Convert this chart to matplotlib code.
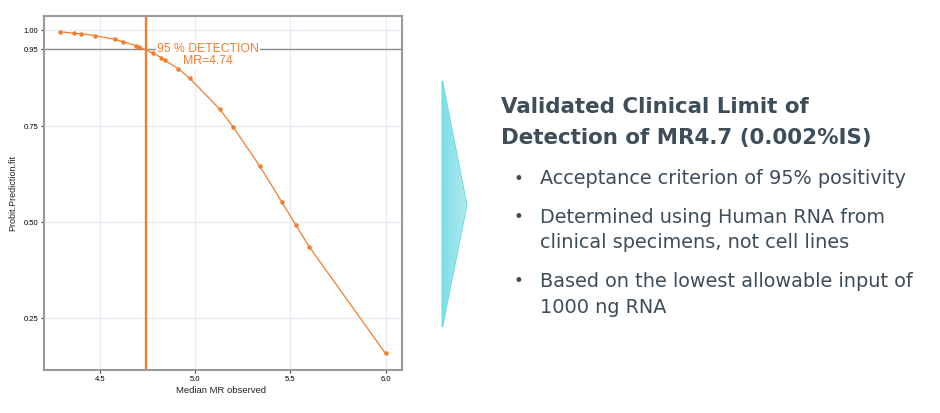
import matplotlib
matplotlib.use("Agg")
import matplotlib.pyplot as plt
import numpy as np
from matplotlib.patches import Polygon
from matplotlib.colors import LinearSegmentedColormap

# probit fit points
median_mr = [4.292, 4.364, 4.402, 4.472, 4.580, 4.622, 4.689, 4.703, 4.780, 4.820,
             4.839, 4.911, 4.971, 5.130, 5.198, 5.338, 5.456, 5.527, 5.598, 5.999]
probit_fit = [0.996, 0.992, 0.991, 0.986, 0.976, 0.970, 0.960, 0.957, 0.940, 0.929,
              0.922, 0.900, 0.875, 0.794, 0.749, 0.647, 0.552, 0.494, 0.437, 0.159]
detection_level = 0.95
detection_mr = 4.74
x_ticks = [4.5, 5.0, 5.5, 6.0]
x_tick_labels = ["4.5", "5.0", "5.5", "6.0"]
y_ticks = [0.25, 0.50, 0.75, 0.95, 1.00]
y_tick_labels = ["0.25", "0.50", "0.75", "0.95", "1.00"]

title_lines = ["Validated Clinical Limit of", "Detection of MR4.7 (0.002%IS)"]
bullets = [
    ["Acceptance criterion of 95% positivity"],
    ["Determined using Human RNA from", "clinical specimens, not cell lines"],
    ["Based on the lowest allowable input of", "1000 ng RNA"],
]

ORANGE = "#F47C2C"
SLATE = "#3E4D5A"

fig = plt.figure(figsize=(9.4, 4.13), dpi=100)
fig.patch.set_facecolor("white")

# --- left: the probit plot ---
ax = fig.add_axes([44 / 940, 1 - 370 / 413, (401.7 - 44) / 940, (370 - 16) / 413])
ax.set_xlim(4.206, 6.084)
ax.set_ylim(0.116, 1.037)

ax.set_xticks(x_ticks)
ax.set_xticklabels(x_tick_labels)
ax.set_yticks(y_ticks)
ax.set_yticklabels(y_tick_labels)
ax.tick_params(labelsize=5.5, length=2.5, width=0.8, color="#333333", pad=1.5)
for lab in ax.get_xticklabels() + ax.get_yticklabels():
    lab.set_fontfamily("Liberation Sans")

ax.grid(True, color="#E6ECF3", linewidth=1.0, zorder=0)
ax.set_axisbelow(True)
for side in ax.spines.values():
    side.set_color("#9A9A9A")
    side.set_linewidth(1.5)

ax.axhline(detection_level, color="#8C8C8C", linewidth=1.0, zorder=1)
ax.axvline(detection_mr, color=ORANGE, linewidth=1.7, zorder=2)
ax.plot(median_mr, probit_fit, color=ORANGE, linewidth=0.9, marker="o",
        markersize=2.2, zorder=4)

ax.text(5.067, 0.9365, "95 % DETECTION\nMR=4.74", color=ORANGE, fontsize=8.8,
        family="Liberation Sans", ha="center", va="center", linespacing=1.0,
        bbox=dict(facecolor="white", edgecolor="none", pad=1.0), zorder=3)

ax.set_xlabel("Median MR observed", fontsize=6.8, family="Liberation Sans", color="#222222")
ax.set_ylabel("Probit.Prediction.fit", fontsize=6.5, family="Liberation Sans", color="#222222")
ax.xaxis.set_label_coords(0.495, -0.045)
ax.yaxis.set_label_coords(-0.075, 0.5)

# --- right: arrow and text, drawn in pixel coordinates ---
ov = fig.add_axes([0, 0, 1, 1], facecolor="none")
ov.set_xlim(0, 940)
ov.set_ylim(413, 0)
ov.axis("off")

arrow_pts = [(442.3, 81), (466.7, 205), (442.3, 327)]
arrow = Polygon(arrow_pts, closed=True, facecolor="none", edgecolor="#55D2DE", linewidth=1.0)
ov.add_patch(arrow)
grad = LinearSegmentedColormap.from_list("arrow", ["#7DDFE7", "#B3E9EE"])
img = ov.imshow(np.linspace(0, 1, 64).reshape(1, -1), cmap=grad, aspect="auto",
                extent=[442.3, 466.7, 327, 81], zorder=1)
img.set_clip_path(arrow)
ov.set_xlim(0, 940)
ov.set_ylim(413, 0)

title_base = [112.7, 144.0]
for txt, yb in zip(title_lines, title_base):
    ov.text(501, yb, txt, fontsize=15.4, fontweight="bold", family="DejaVu Sans",
            color=SLATE, ha="left", va="baseline")

bullet_base = [[184.3], [223.0, 248.0], [287.0, 312.7]]
for lines, ybs in zip(bullets, bullet_base):
    ov.text(518, ybs[0] - 5.5, "\u2022", fontsize=12, family="DejaVu Sans",
            color=SLATE, ha="center", va="center")
    for txt, yb in zip(lines, ybs):
        ov.text(540, yb, txt, fontsize=13.85, family="DejaVu Sans", color=SLATE,
                ha="left", va="baseline")

fig.savefig("out.png", dpi=100)
